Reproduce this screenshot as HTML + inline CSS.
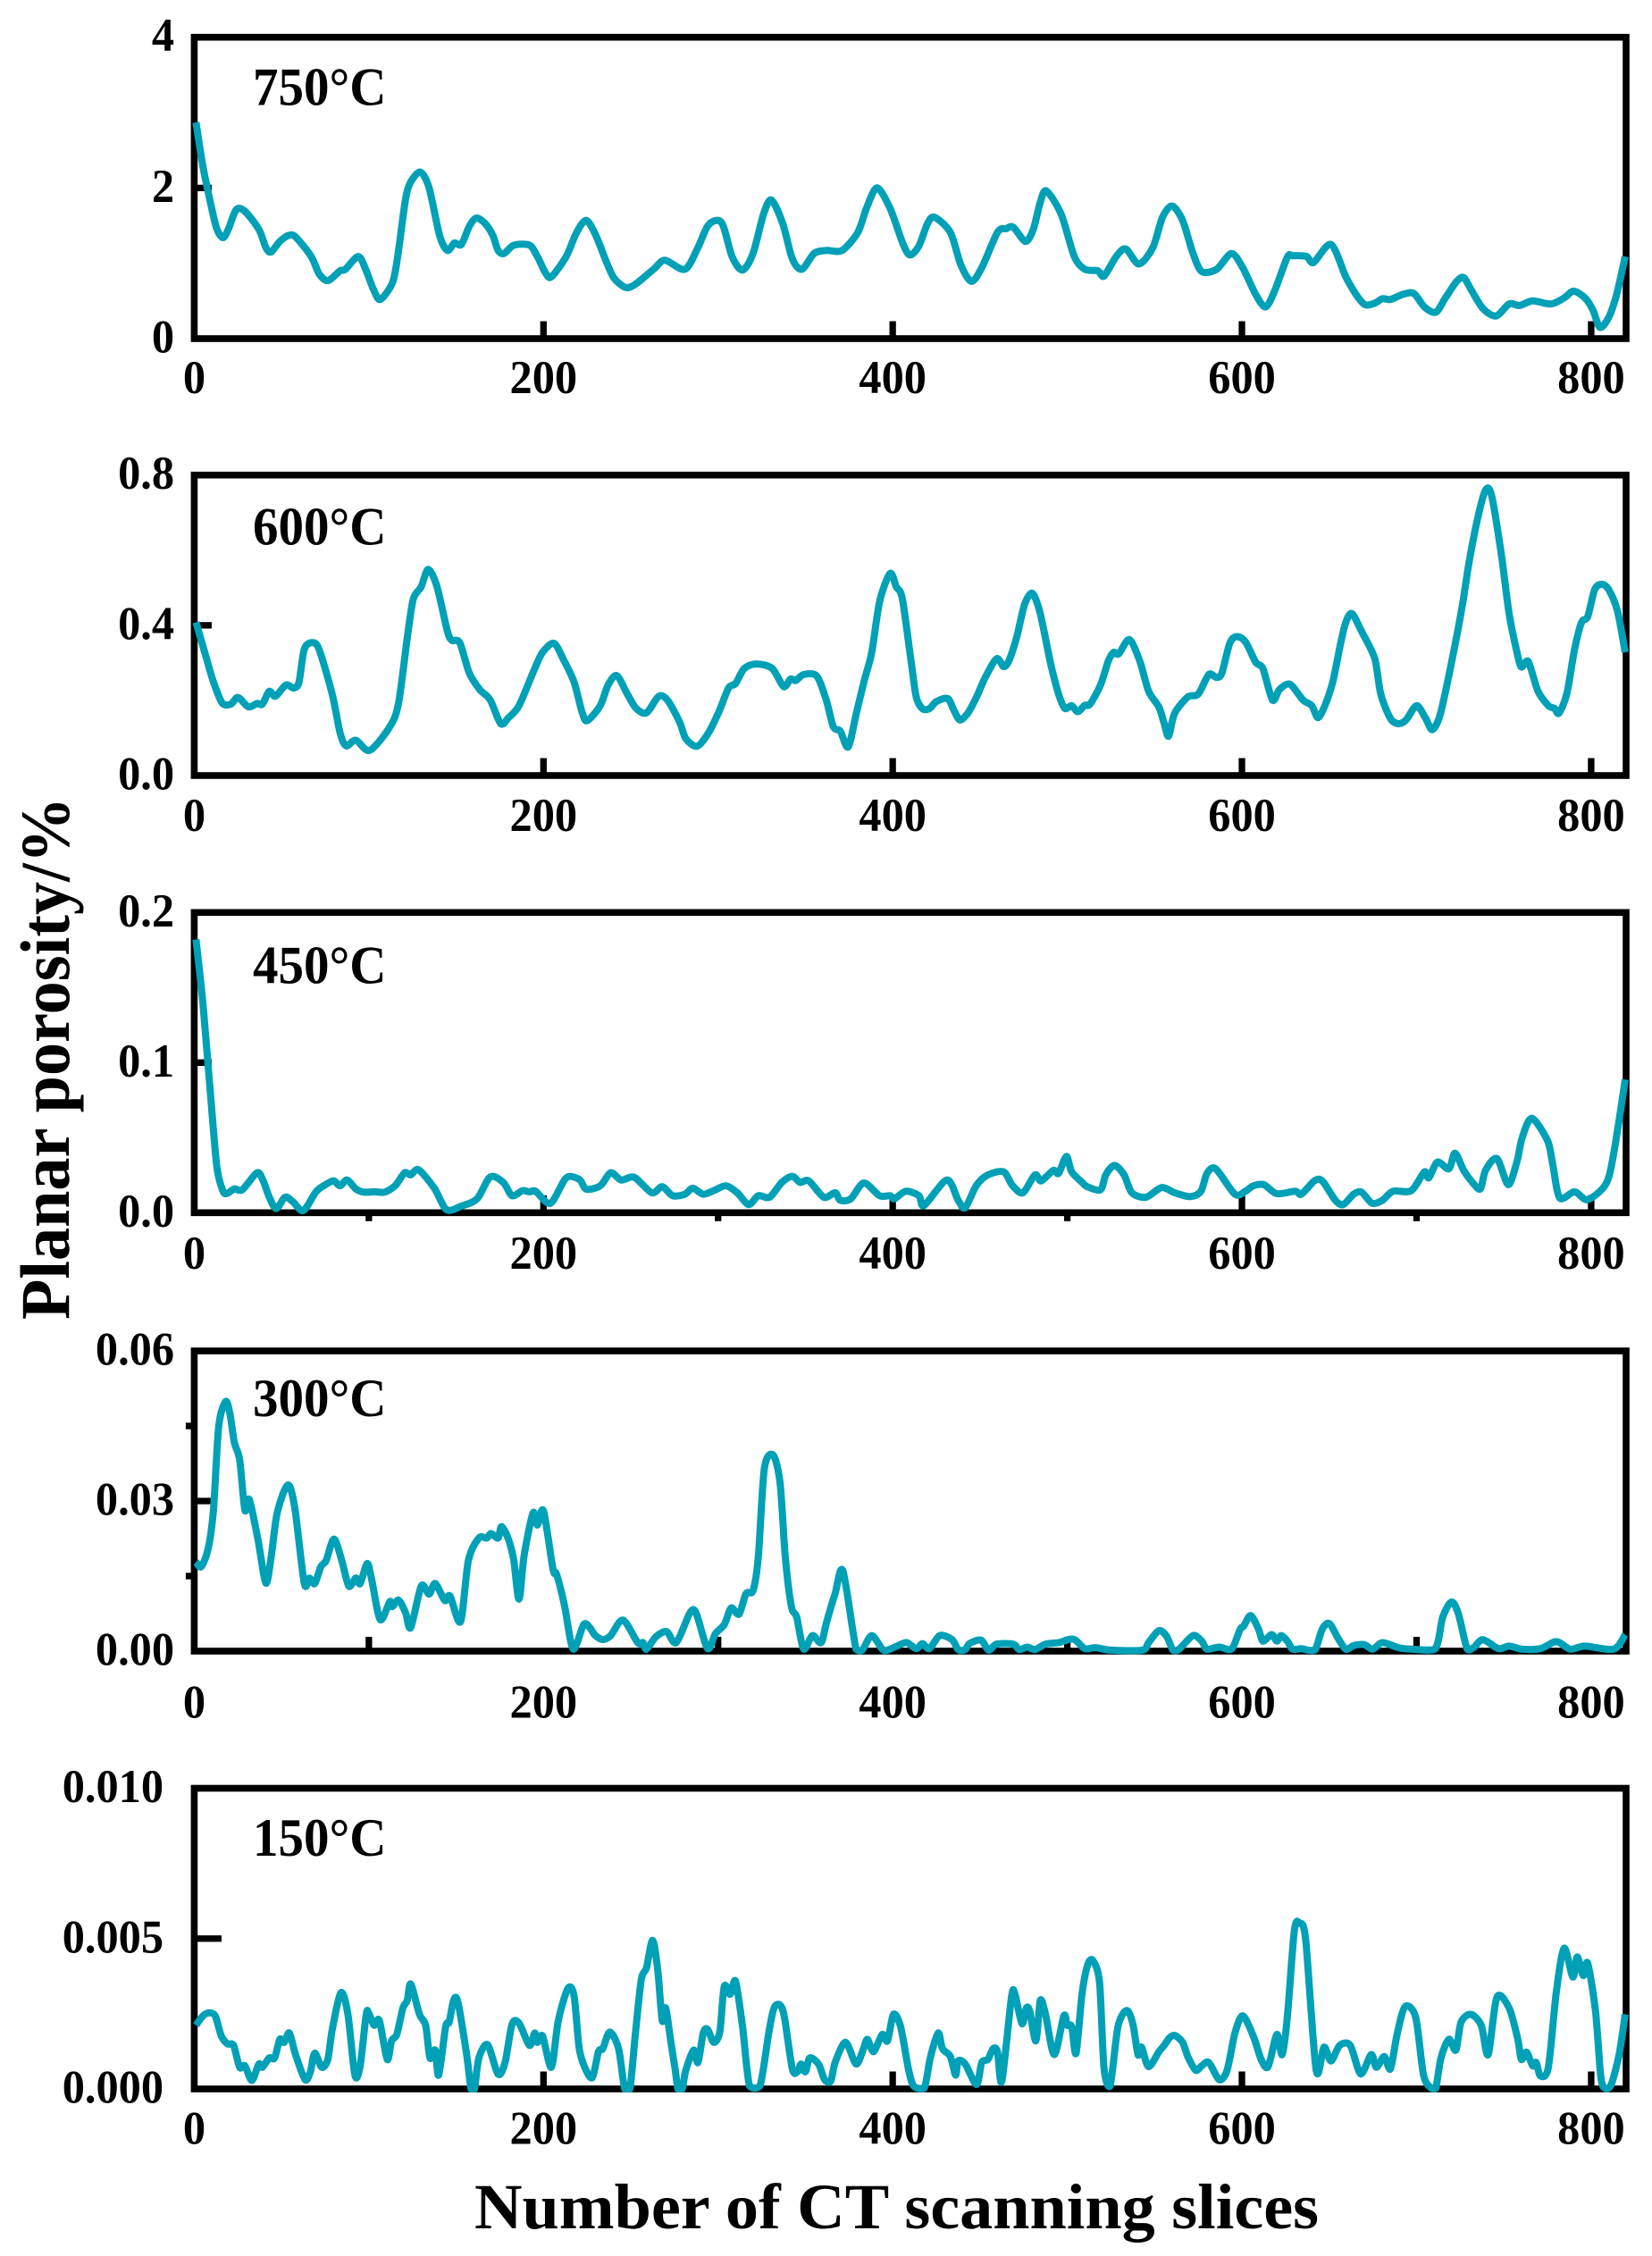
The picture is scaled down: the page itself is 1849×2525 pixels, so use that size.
<!DOCTYPE html>
<html lang="en">
<head>
<meta charset="utf-8">
<title>Planar porosity by CT scanning slice</title>
<style>
  html, body { margin: 0; padding: 0; background: #ffffff; }
  #chart { display: block; width: 1849px; height: 2525px; font-family: "Liberation Serif", serif; font-weight: bold; fill: #000; }
</style>
</head>
<body>
<svg id="chart" xmlns="http://www.w3.org/2000/svg" width="1849" height="2525" viewBox="0 0 1849 2525">
  <rect x="0" y="0" width="1849" height="2525" fill="#ffffff"/>
  <text transform="translate(77,1477) rotate(-90)" font-size="78" textLength="585" lengthAdjust="spacingAndGlyphs">Planar porosity/%</text>
  <text x="531" y="2494" font-size="72" textLength="945" lengthAdjust="spacingAndGlyphs">Number of CT scanning slices</text>
</svg>
<script>
const slices750 = [1,5,10,13,16.5,19.5,24,29,37,41,44,49,54,58,67,71.5,76.5,83.5,86.5,94,98.5,102.5,106.5,113.5,116.5,121,124,129.5,134.5,140.5,145,149,153,157.5,161.5,166.5,171,174,177.5,183,192,196.5,201,204.5,213,219,224.5,230,236,240.5,247,252.5,263,269.5,281,288.5,294.5,302,308,314,320,326,330.5,337,342.5,348,355,362,371,380,385,391,398.5,406,410,415,420,424,433,439,445,451,460,465,469,476,480.5,484.5,488,496.5,504,510,517.5,521,528,533.5,541,549,554.5,560,566,572,577,585.5,594,600.5,608,613.5,618.5,626,629,637,641,651,659.5,665.5,670.5,676,680.5,685,692.5,698.5,704.5,711,716.5,723,727,731.5,738,745.5,753,759,766.5,777,784.5,790,796.5,801,805,810,814.5,819.5];
const porosity750 = [2.87,2.28,1.73,1.45,1.34,1.45,1.71,1.69,1.45,1.21,1.15,1.29,1.37,1.35,1.09,0.86,0.77,0.90,0.92,1.09,0.90,0.66,0.52,0.74,1.09,1.85,2.08,2.21,2.0,1.37,1.17,1.27,1.25,1.49,1.60,1.53,1.37,1.17,1.13,1.24,1.24,1.09,0.88,0.82,1.09,1.41,1.57,1.37,1.02,0.80,0.68,0.72,0.92,1.04,0.92,1.21,1.51,1.54,1.09,0.91,1.13,1.65,1.84,1.53,1.06,0.92,1.13,1.17,1.17,1.41,1.73,2.0,1.73,1.25,1.11,1.23,1.53,1.61,1.41,0.98,0.76,0.94,1.41,1.46,1.48,1.29,1.45,1.81,1.96,1.65,1.09,0.92,0.90,0.83,1.09,1.19,0.99,1.21,1.61,1.76,1.57,1.13,0.89,0.92,1.13,0.94,0.58,0.42,0.62,1.08,1.10,1.09,1.01,1.25,0.82,0.58,0.45,0.47,0.53,0.52,0.59,0.60,0.42,0.35,0.54,0.76,0.81,0.64,0.40,0.30,0.46,0.44,0.50,0.46,0.54,0.63,0.54,0.38,0.15,0.28,0.58,1.09];

const slices600 = [1,6.5,11,16,21,25,31,36,39,43,46.5,52.5,57,60,63,67.5,71.5,79,83.5,87,92.5,100.5,112,117,122.5,125.5,130,134,139,145,147.5,152,157.5,163.5,169.5,175.5,180,186,195,199.5,206,211.5,217.5,222,225,232.5,237,242,248,253,259,266,271,278,281.5,288,294.5,300.5,306,310,315,322,331,337.5,341.5,344.5,349,356.5,362,366,370,374.5,379,383.5,388,392.5,398.5,402,405.5,410.5,413.5,417,421,425,431.5,435,438.5,443,448,453,459.5,463.5,466.5,471,475.5,480,484.5,490.5,495,498.5,502.5,506,510,513,519,523.5,526.5,529.5,535.5,541.5,546.5,552.5,555.5,558,561.5,569,575,581,585.5,588.5,593,597,602,608,612,617.5,621.5,627.5,635,640,643.5,647.5,652,656.5,659.5,663,668.5,676,679.5,685,689.5,694,700,705,709,713.5,719.5,726,730,735,739.5,743,748.5,753,757.5,760,764,769.5,775.5,779,781.5,786,790.5,794.5,798,802,806,810,815,819.5];
const porosity600 = [0.408,0.32,0.249,0.193,0.19,0.208,0.183,0.192,0.19,0.224,0.211,0.241,0.233,0.249,0.336,0.354,0.336,0.217,0.114,0.079,0.094,0.067,0.13,0.193,0.384,0.471,0.503,0.549,0.503,0.384,0.36,0.354,0.273,0.229,0.201,0.138,0.154,0.186,0.285,0.328,0.352,0.308,0.249,0.17,0.146,0.186,0.241,0.266,0.217,0.179,0.167,0.211,0.201,0.142,0.098,0.078,0.114,0.17,0.233,0.245,0.285,0.297,0.285,0.237,0.257,0.253,0.269,0.265,0.2,0.13,0.118,0.076,0.162,0.249,0.328,0.463,0.538,0.503,0.471,0.305,0.209,0.178,0.178,0.197,0.205,0.174,0.148,0.166,0.209,0.261,0.311,0.29,0.305,0.368,0.455,0.485,0.431,0.297,0.217,0.179,0.186,0.17,0.187,0.19,0.241,0.305,0.328,0.324,0.362,0.305,0.225,0.182,0.138,0.105,0.166,0.209,0.217,0.269,0.261,0.273,0.352,0.37,0.356,0.301,0.285,0.201,0.229,0.243,0.201,0.186,0.154,0.186,0.249,0.352,0.408,0.431,0.384,0.312,0.217,0.152,0.138,0.148,0.186,0.154,0.122,0.162,0.289,0.447,0.566,0.685,0.76,0.745,0.59,0.431,0.328,0.289,0.303,0.225,0.186,0.179,0.166,0.217,0.336,0.408,0.423,0.495,0.509,0.495,0.439,0.328];

const slices450 = [1,5,9.5,13,16.5,19,23,27.5,36,39.5,43,47,52,56.5,62.5,70,76,80,83.5,87.5,92.5,97,103.5,109,115,120.5,124,128.5,137.5,144.5,153,162,169.5,177,182,188,192,195.5,204,213,220.5,224.5,232.5,238.5,244.5,252,262,268,274,281,285.5,291.5,297.5,304.5,311,317.5,323,329.5,336.5,342.5,347,352,360.5,367,370,376,383.5,392.5,398.5,401,407.5,415,418,431,437.5,441.5,448,454.5,463.5,468.5,474.5,481.5,485,492,495,499.5,502.5,508.5,511.5,519,522,527,532.5,537,545,554,561.5,570.5,576.5,580,585,596,602,606.5,612.5,620,630.5,634,641.5,646,653.5,658,664,668.5,674.5,680.5,686.5,697,704.5,707,712,718.5,722,727,732,736.5,739.5,746,752.5,757.5,760.5,766,775,778,782,790.5,798,808.5,813,819.5];
const porosity450 = [0.182,0.139,0.076,0.030,0.0143,0.0129,0.0159,0.0153,0.0266,0.0212,0.0103,0.0028,0.0103,0.0073,0.0014,0.0143,0.0192,0.0212,0.0179,0.0218,0.0159,0.0137,0.0139,0.0137,0.0179,0.0266,0.0252,0.0286,0.0163,0.002,0.0044,0.0093,0.0238,0.0202,0.0113,0.0147,0.0139,0.0143,0.0063,0.0232,0.0222,0.0157,0.0179,0.0266,0.0218,0.0236,0.0133,0.0173,0.0113,0.0123,0.0163,0.0123,0.0147,0.0179,0.0133,0.0054,0.0113,0.0103,0.0202,0.0242,0.0202,0.0212,0.0103,0.0133,0.0083,0.0093,0.0198,0.0113,0.0113,0.0093,0.0143,0.0113,0.0048,0.0218,0.0083,0.0034,0.0183,0.0252,0.0272,0.0183,0.0133,0.0252,0.0212,0.0282,0.0262,0.0375,0.0272,0.0202,0.0173,0.0153,0.0252,0.0315,0.0252,0.0133,0.0103,0.0167,0.0133,0.0107,0.0143,0.0262,0.0292,0.0123,0.0143,0.0179,0.0187,0.0127,0.0143,0.0123,0.0212,0.0212,0.0083,0.0054,0.0123,0.0137,0.0063,0.0083,0.0143,0.0147,0.0272,0.0232,0.0337,0.0292,0.0397,0.0282,0.0202,0.0159,0.0282,0.0361,0.0187,0.0341,0.05,0.0629,0.048,0.0321,0.0099,0.0139,0.0087,0.0192,0.04,0.0887];

const slices300 = [1,4,8,11,14,18,20.5,23,26,29,31.5,36.5,41,44,47.5,53.5,57.5,63,66,69,72.5,75.5,80,84.5,88.5,92.5,95,99,101.5,106.5,112,113.5,117,121,124,130,134.5,138,143.5,146.5,152.5,157,163,167.5,170,174,176,180,183,186,189,194,196.5,200,205.5,207.5,212,217,223,226.5,229.5,234,238.5,245.5,254,257,259,264.5,270.5,276,284,287.5,294,298.5,303.5,307.5,312,316,320,323,326.5,331.5,335.5,338.5,342,345,349,354,359,362,367,371.5,379,382.5,388,394,397,403,408,413.5,417,421,427,434,437.5,441.5,444,450.5,455,459.5,469,472.5,477,481.5,487.5,495,503.5,510,516,525,543,546.5,552.5,557,560.5,564,572,577,580,587,594,599,601,605,609.5,612,617,620,622.5,626,629,634,638,642,646,650,655,659.5,664,670,675,680.5,689.5,697,710.5,715,720,724,729,733,738,747,753,760.5,771,780,788,796.5,813,819.5];
const porosity300 = [0.0178,0.0169,0.0205,0.0282,0.0449,0.0499,0.0473,0.0416,0.0383,0.0282,0.0303,0.0223,0.0136,0.0187,0.0276,0.0332,0.0288,0.0136,0.0146,0.0135,0.0169,0.0181,0.0224,0.0181,0.013,0.0146,0.0135,0.0175,0.0145,0.0063,0.0099,0.0089,0.0102,0.0077,0.0047,0.013,0.0114,0.0135,0.0101,0.011,0.0059,0.0181,0.0226,0.0226,0.0235,0.0226,0.0249,0.0223,0.0181,0.0104,0.0193,0.0276,0.0252,0.028,0.0163,0.0154,0.0092,0.0004,0.0053,0.0047,0.0032,0.0023,0.0031,0.0062,0.0017,0.0017,0.0004,0.0029,0.0039,0.0017,0.0077,0.0075,0.0005,0.0035,0.0053,0.0086,0.0074,0.0115,0.0121,0.0187,0.0365,0.0392,0.0336,0.0187,0.0089,0.0068,0.0004,0.0031,0.0017,0.0056,0.0115,0.016,0.0004,0.0002,0.0031,0.0004,0.0002,0.0011,0.0017,0.0005,0.0015,0.0005,0.0031,0.0023,0.0003,0.0003,0.0015,0.0022,0.0002,0.0014,0.0014,0.0003,0.0008,0.0003,0.0014,0.0017,0.0024,0.0005,0.0007,0.0002,0.0002,0.0017,0.0041,0.0029,0.0002,0.0004,0.0031,0.002,0.0004,0.0008,0.0004,0.0044,0.005,0.0071,0.0044,0.002,0.0033,0.002,0.0031,0.002,0.0004,0.0005,0.0002,0.0003,0.0044,0.0055,0.0026,0.0004,0.0011,0.0013,0.0004,0.0017,0.0007,0.0004,0.0004,0.0068,0.0098,0.0074,0.0004,0.0008,0.0023,0.0005,0.001,0.0004,0.0005,0.0019,0.0004,0.001,0.0004,0.0033];

const slices150 = [1,5,8.5,12,15.5,19,22.5,26,29,33,37,39,43,46,49,51.5,54.5,58,63.5,66.5,69,73,76.5,79,84,88,92,95,98.5,100,103,106,110.5,113,116,119.5,122,124,129,132.5,135,138,140,144,146,148.5,151,156,158.5,160.5,163,168,174,178,182,186,192,195,196.5,199.5,204.5,208.5,214,217.5,220.5,224,228,231.5,234,238,243,246.5,249.5,252.5,256,259,262.5,265.5,268,270,273,275.5,277,279.5,281.5,286,288.5,291.5,294,297.5,301,303.5,307,310,314,318,324,329,332,335.5,338,342.5,345.5,347.5,350,352.5,357.5,361,364.5,367,373,379,383,385.5,389,394,397,400.5,404.5,409,412,418,421.5,426,428.5,433,436,437.5,441.5,448,451,454.5,457.5,460,462.5,468,470,474,476.5,478.5,482,484.5,487.5,492.5,498,500,502.5,505,508.5,512,515,518.5,521,524.5,529,534,537.5,540.5,542.5,546.5,552.5,555.5,558.5,561.5,566,569,573.5,577,581,587,591.5,596,600.5,606.5,611,615,620,623,626,630,633,636.5,642.5,647,651,656,662,668,674,677,681.5,685,689,693.5,699.5,704,708.5,711,714,718.5,722.5,725.5,731,737,741,746,753,758,760,763,766.5,768.5,771,775.5,780,784.5,789.5,792,795.5,798,802.5,805.5,808,811.5,816,819.5];
const porosity150Milli = [2.12,2.43,2.53,2.43,1.76,1.5,1.45,0.72,0.77,0.28,0.83,0.72,1.03,1.03,1.65,1.55,1.86,1.14,0.31,0.57,1.19,0.72,0.98,1.96,3.2,2.48,0.46,0.77,2.48,2.51,2.12,2.27,0.98,1.6,1.81,2.69,2.94,3.49,2.48,2.12,1.03,1.29,0.46,2.07,2.22,2.94,2.89,1.14,0,0,1.03,1.47,0.49,0.88,2.15,2.19,1.45,1.86,1.55,1.76,0.72,2.27,3.34,3.1,1.34,0.67,0.38,1.24,1.34,1.89,1.34,0,0,1.76,3.62,4.03,4.94,3.93,2.27,2.69,1.55,0.62,0,0,0.62,1.29,0.88,1.86,1.98,1.55,1.91,3.41,3.15,3.58,2.07,0.1,0.1,1.86,2.69,2.79,2.38,0.67,0.57,0.83,0.57,1.03,0.83,0.31,0.26,0.88,1.55,0.83,1.29,1.65,1.24,1.81,1.6,2.48,2.07,0.67,0.1,0.02,1.03,1.86,1.34,1.08,0.46,0.93,0.83,0.15,0.88,0.98,1.34,1.24,0.26,3.05,3.15,2.17,2.69,2.58,1.6,2.94,2.48,1.14,2.43,2.12,2.07,1.19,3.2,4.18,4.24,3.51,0.72,0.1,2.07,2.61,2.17,1.14,1.39,0.74,1.24,1.45,1.7,1.78,1.55,1.08,0.62,0.77,0.88,0.31,0.62,1.86,2.43,1.76,0.98,0.74,1.81,1.14,2.38,5.27,5.51,4.96,0.62,1.39,0.93,1.45,1.45,0.5,1.14,0.72,1.08,0.67,1.86,2.74,2.38,0.46,0.02,0.02,1.03,1.65,1.29,2.22,2.48,2.12,1.14,3.05,2.69,1.65,0.98,1.22,0.77,0.88,0.43,0.72,3.2,4.68,3.72,4.39,3.77,4.18,2.58,0.41,0.02,0.15,1.14,2.48];

const xTickValues = [0, 200, 400, 600, 800];
const xTickLabels = ["0", "200", "400", "600", "800"];
const xMinorValues = [100, 300, 500, 700];
const yTickValues750 = [0, 2, 4];
const yTickLabels750 = ["0", "2", "4"];
const yTickValues600 = [0, 0.4, 0.8];
const yTickLabels600 = ["0.0", "0.4", "0.8"];
const yTickValues450 = [0, 0.1, 0.2];
const yTickLabels450 = ["0.0", "0.1", "0.2"];
const yTickValues300 = [0, 0.03, 0.06];
const yTickLabels300 = ["0.00", "0.03", "0.06"];
const yTickValues150 = [0, 5, 10];
const yTickLabels150 = ["0.000", "0.005", "0.010"];

const SVG_NS = "http://www.w3.org/2000/svg";
const chart = document.getElementById("chart");
const LINE_COLOR = "#00a0b7";
const PLOT_LEFT = 217.4;
const PLOT_RIGHT = 1820;
const X_MAX = 820;
const FRAME_WIDTH = 7.6;

function xScale(v) {
  return PLOT_LEFT + v / X_MAX * (PLOT_RIGHT - PLOT_LEFT);
}
function yScaleFor(top, bottom, yMax) {
  return function (v) { return bottom - v / yMax * (bottom - top); };
}
function make(tag, attrs, parent) {
  const el = document.createElementNS(SVG_NS, tag);
  for (const k in attrs) el.setAttribute(k, attrs[k]);
  parent.appendChild(el);
  return el;
}
function smoothPath(px, py, floorY) {
  let d = "M" + px[0].toFixed(1) + " " + py[0].toFixed(1);
  for (let i = 0; i < px.length - 1; i++) {
    const i0 = Math.max(i - 1, 0), i3 = Math.min(i + 2, px.length - 1);
    const k = 1 / 7;
    const c1x = px[i] + (px[i + 1] - px[i0]) * k;
    const c1y = Math.min(floorY, py[i] + (py[i + 1] - py[i0]) * k);
    const c2x = px[i + 1] - (px[i3] - px[i]) * k;
    const c2y = Math.min(floorY, py[i + 1] - (py[i3] - py[i]) * k);
    d += "C" + c1x.toFixed(1) + " " + c1y.toFixed(1) + " " + c2x.toFixed(1) + " " + c2y.toFixed(1) + " " + px[i + 1].toFixed(1) + " " + py[i + 1].toFixed(1);
  }
  return d;
}
function tallText(x, y, size, anchor, parent) {
  return make("text", { transform: "translate(" + x + "," + y + ") scale(0.95,1)", "font-size": size, "text-anchor": anchor }, parent);
}

function drawPanel(cfg) {
  const g = make("g", {}, chart);
  
  
  const y = yScaleFor(cfg.top, cfg.bottom, cfg.yMax);

  const frame = make("rect", { x: PLOT_LEFT, y: cfg.top, width: PLOT_RIGHT - PLOT_LEFT, height: cfg.bottom - cfg.top, fill: "none", stroke: "#000", "stroke-width": FRAME_WIDTH }, g);
  
  

  if (cfg.xMajorTicks) {
    xTickValues.slice(1).forEach(function (v) {
      const t = make("line", { x1: xScale(v), x2: xScale(v), y1: cfg.bottom, y2: cfg.bottom - 19.5, stroke: "#000", "stroke-width": 7.3 }, g);
      
      
    });
  }
  if (cfg.xMinorOut) {
    xMinorValues.forEach(function (v) {
      const t = make("line", { x1: xScale(v), x2: xScale(v), y1: cfg.bottom, y2: cfg.bottom + 9.5, stroke: "#000", "stroke-width": 7.3 }, g);
      
      
    });
  }
  if (cfg.xMinorIn) {
    xMinorValues.forEach(function (v) {
      const t = make("line", { x1: xScale(v), x2: xScale(v), y1: cfg.bottom, y2: cfg.bottom - 16, stroke: "#000", "stroke-width": 7.3 }, g);
      
      
    });
  }

  const midTick = make("line", { x1: PLOT_LEFT, x2: PLOT_LEFT + cfg.yTickLen, y1: y(cfg.yTicks[1]), y2: y(cfg.yTicks[1]), stroke: "#000", "stroke-width": 7.3 }, g);
  
  

  if (cfg.yMinorOut) {
    cfg.yMinorOut.forEach(function (v) {
      const t = make("line", { x1: PLOT_LEFT - 9.5, x2: PLOT_LEFT, y1: y(v), y2: y(v), stroke: "#000", "stroke-width": 7.3 }, g);
      
      
    });
  }

  cfg.yTicks.forEach(function (v, i) {
    const t = tallText(cfg.yLabelRight, y(v) + 15.5, 53, "end", g);
    t.textContent = cfg.yLabels[i];
    
    
  });
  xTickValues.forEach(function (v, i) {
    const t = tallText(xScale(v), cfg.xLabelBase, 53, "middle", g);
    t.textContent = xTickLabels[i];
    
    
  });

  const label = tallText(283, cfg.labelBase, 60, "start", g);
  label.textContent = cfg.label;
  
  

  const px = cfg.xs.map(xScale);
  const py = cfg.ys.map(y);
  const line = make("path", { d: smoothPath(px, py, y(0)), fill: "none", stroke: LINE_COLOR, "stroke-width": 8, "stroke-linejoin": "round", "stroke-linecap": "butt" }, g);
  
  
}

drawPanel({ label: "750°C", top: 41.7, bottom: 379, yMax: 4, yTicks: yTickValues750, yLabels: yTickLabels750, yTickLen: 19.5, yLabelRight: 195, xLabelBase: 440, labelBase: 117.5, xMajorTicks: true, xs: slices750, ys: porosity750 });
drawPanel({ label: "600°C", top: 531.7, bottom: 868, yMax: 0.8, yTicks: yTickValues600, yLabels: yTickLabels600, yTickLen: 19.5, yLabelRight: 195, xLabelBase: 930, labelBase: 609.5, xMajorTicks: true, xs: slices600, ys: porosity600 });
drawPanel({ label: "450°C", top: 1021.3, bottom: 1357.3, yMax: 0.2, yTicks: yTickValues450, yLabels: yTickLabels450, yTickLen: 19.5, yLabelRight: 195, xLabelBase: 1420, labelBase: 1100.5, xMajorTicks: true, xMinorOut: true, xs: slices450, ys: porosity450 });
drawPanel({ label: "300°C", top: 1512, bottom: 1848, yMax: 0.06, yTicks: yTickValues300, yLabels: yTickLabels300, yTickLen: 19.5, yLabelRight: 195, xLabelBase: 1922.5, labelBase: 1585, xMinorIn: true, yMinorOut: [0.015, 0.045], xs: slices300, ys: porosity300 });
drawPanel({ label: "150°C", top: 2001.5, bottom: 2338, yMax: 10, yTicks: yTickValues150, yLabels: yTickLabels150, yTickLen: 30.5, yLabelRight: 183, xLabelBase: 2399.5, labelBase: 2077, xMajorTicks: true, xs: slices150, ys: porosity150Milli });
</script>
</body>
</html>
